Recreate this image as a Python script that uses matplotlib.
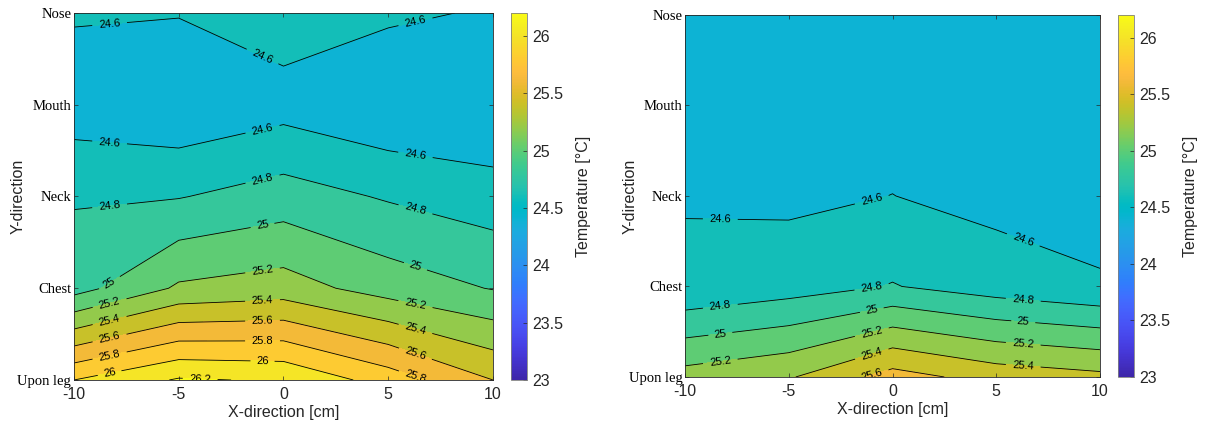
import numpy as np
import matplotlib.pyplot as plt
from matplotlib.colors import LinearSegmentedColormap, Normalize
from matplotlib.cm import ScalarMappable

# x positions [cm] and body heights
x_cm = [-10, -5, 0, 5, 10]
y_names = ['Upon leg', 'Chest', 'Neck', 'Mouth', 'Nose']

# temperature fields, rows = Upon leg .. Nose, cols = x_cm
temp_left = [
    [26.00, 26.22, 26.18, 25.91, 25.60],
    [24.92, 25.23, 25.29, 25.11, 24.99],
    [24.78, 24.79, 24.89, 24.78, 24.69],
    [24.49, 24.43, 24.52, 24.42, 24.41],
    [24.62, 24.61, 24.71, 24.635, 24.58],
]
temp_right = [
    [25.28, 25.38, 25.68, 25.52, 25.45],
    [24.63, 24.71, 24.81, 24.70, 24.62],
    [24.59, 24.56, 24.602, 24.54, 24.52],
    [24.50, 24.48, 24.52, 24.49, 24.47],
    [24.50, 24.47, 24.50, 24.48, 24.46],
]

cbar_ticks = [23, 23.5, 24, 24.5, 25, 25.5, 26]
cmin, cmax = 23, 26.2

# matlab parula (64)
parula_data = [
    [0.2422, 0.1504, 0.6603], [0.2504, 0.1650, 0.7076], [0.2578, 0.1818, 0.7511],
    [0.2647, 0.1978, 0.7952], [0.2706, 0.2147, 0.8364], [0.2751, 0.2342, 0.8710],
    [0.2783, 0.2559, 0.8991], [0.2803, 0.2782, 0.9221], [0.2813, 0.3006, 0.9414],
    [0.2810, 0.3228, 0.9579], [0.2795, 0.3447, 0.9717], [0.2760, 0.3667, 0.9829],
    [0.2699, 0.3892, 0.9906], [0.2602, 0.4123, 0.9952], [0.2440, 0.4358, 0.9988],
    [0.2206, 0.4603, 0.9973], [0.1963, 0.4847, 0.9892], [0.1834, 0.5074, 0.9798],
    [0.1786, 0.5289, 0.9682], [0.1764, 0.5499, 0.9520], [0.1687, 0.5703, 0.9359],
    [0.1540, 0.5902, 0.9218], [0.1460, 0.6091, 0.9079], [0.1380, 0.6276, 0.8973],
    [0.1248, 0.6459, 0.8883], [0.1113, 0.6635, 0.8763], [0.0952, 0.6798, 0.8598],
    [0.0689, 0.6948, 0.8394], [0.0297, 0.7082, 0.8163], [0.0036, 0.7203, 0.7917],
    [0.0067, 0.7312, 0.7660], [0.0433, 0.7411, 0.7394], [0.0964, 0.7500, 0.7120],
    [0.1408, 0.7584, 0.6842], [0.1717, 0.7670, 0.6554], [0.1938, 0.7758, 0.6251],
    [0.2161, 0.7843, 0.5923], [0.2470, 0.7918, 0.5567], [0.2906, 0.7973, 0.5188],
    [0.3406, 0.8008, 0.4789], [0.3909, 0.8029, 0.4354], [0.4456, 0.8024, 0.3909],
    [0.5044, 0.7993, 0.3480], [0.5616, 0.7942, 0.3045], [0.6174, 0.7876, 0.2612],
    [0.6720, 0.7793, 0.2227], [0.7242, 0.7698, 0.1910], [0.7738, 0.7598, 0.1646],
    [0.8203, 0.7498, 0.1535], [0.8634, 0.7406, 0.1596], [0.9035, 0.7330, 0.1774],
    [0.9393, 0.7288, 0.2100], [0.9728, 0.7298, 0.2394], [0.9956, 0.7434, 0.2371],
    [0.9970, 0.7659, 0.2199], [0.9952, 0.7893, 0.2028], [0.9892, 0.8136, 0.1885],
    [0.9786, 0.8386, 0.1766], [0.9676, 0.8639, 0.1643], [0.9610, 0.8890, 0.1537],
    [0.9597, 0.9135, 0.1423], [0.9628, 0.9373, 0.1265], [0.9691, 0.9606, 0.1064],
    [0.9769, 0.9839, 0.0805],
]
parula = LinearSegmentedColormap.from_list('parula', parula_data)
norm = Normalize(vmin=cmin, vmax=cmax)

levels = np.round(np.arange(24.2, 26.41, 0.2), 1)
# matlab fills each band with the colour of its lower level
band_colors = [parula(norm(lv)) for lv in levels[:-1]]

# where along x the contour labels go (like matlab's spacing)
label_x = [-8.3, -1.0, 6.3]

sans = 'Liberation Sans'
serif = 'Liberation Serif'
dark = '#262626'

fig = plt.figure(figsize=(12.05, 4.3), dpi=100)

panels = [
    (temp_left, [0.0614, 0.1163, 0.3477, 0.8535], [0.4241, 0.1163, 0.0133, 0.8535]),
    (temp_right, [0.5685, 0.1233, 0.3444, 0.8420], [0.9278, 0.1233, 0.0133, 0.8420]),
]

X, Y = np.meshgrid(x_cm, np.arange(len(y_names)))

for data, pos, cpos in panels:
    Z = np.array(data)
    ax = fig.add_axes(pos)
    ax.contourf(X, Y, Z, levels=levels, colors=band_colors)
    cs = ax.contour(X, Y, Z, levels=levels, colors='k', linewidths=0.6)

    pts = []
    for segs in cs.allsegs:
        for seg in segs:
            xs, ys = seg[:, 0], seg[:, 1]
            if len(xs) < 2:
                continue
            order = np.argsort(xs)
            hits = [tx for tx in label_x if xs.min() <= tx <= xs.max()]
            if not hits and xs.max() - xs.min() > 2:
                hits = [0.5 * (xs.min() + xs.max())]
            for tx in hits:
                pts.append((tx, np.interp(tx, xs[order], ys[order])))
    lbl = ax.clabel(cs, fmt='%g', fontsize=8, inline=True, inline_spacing=5, manual=pts)
    for t in lbl:
        t.set_family(sans)

    ax.set_xlim(-10, 10)
    ax.set_ylim(0, len(y_names) - 1)
    ax.set_xticks(x_cm)
    ax.set_xticklabels([str(v) for v in x_cm], family=sans, fontsize=11.5, color=dark)
    ax.set_yticks(np.arange(len(y_names)))
    ax.set_yticklabels(y_names, family=serif, fontsize=10.5)
    ax.tick_params(direction='in', top=True, right=True, length=3, width=0.5,
                   color=dark, pad=2)
    ax.tick_params(axis='x', pad=5)
    for s in ax.spines.values():
        s.set_linewidth(0.6)
        s.set_color(dark)
    ax.set_xlabel('X-direction [cm]', family=sans, fontsize=11.5, color=dark, labelpad=2)
    ax.set_ylabel('Y-direction', family=sans, fontsize=11.5, color=dark)
    ax.yaxis.set_label_coords(-0.115, 0.5)

    cax = fig.add_axes(cpos)
    sm = ScalarMappable(norm=norm, cmap=parula)
    cb = fig.colorbar(sm, cax=cax, ticks=cbar_ticks)
    cb.ax.set_yticklabels(['%g' % v for v in cbar_ticks], family=sans, fontsize=11.5,
                          color=dark)
    cb.ax.tick_params(direction='in', length=3, width=0.5, color=dark, pad=4)
    cb.outline.set_linewidth(0.6)
    cb.outline.set_edgecolor('#808080')
    cb.set_label('Temperature [°C]', family=sans, fontsize=11.5, color=dark, labelpad=9)

fig.savefig('out.png', dpi=100)
